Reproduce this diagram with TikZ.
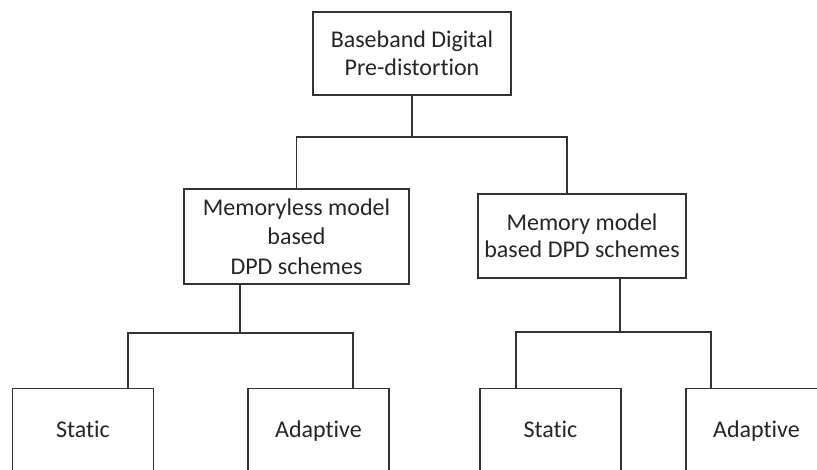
\documentclass[tikz,border=0pt]{standalone}
\usepackage{fontspec}
\setmainfont{Carlito}[Ligatures=NoCommon]
\begin{document}
\begin{tikzpicture}[x=1pt,y=-1pt,
  every node/.style={text=black!85},
  box/.style={draw=black!80, line width=1.5pt, align=center, inner sep=0pt,
    font=\fontsize{24}{28}\selectfont},
  leaf/.style={box, minimum width=141pt, text height=49pt, text depth=70pt},
  conn/.style={draw=black!80, line width=1.5pt}]
\useasboundingbox (0,0) rectangle (817,470);
\clip (0,0) rectangle (817,470);
\fill[white] (0,0) rectangle (817,470);
\node[box, minimum width=198pt, minimum height=83pt] (top) at (412,53.5) {Baseband Digital\\Pre-distortion};
\node[box, minimum width=225pt, minimum height=95pt, font=\fontsize{24}{29.5}\selectfont] (lm) at (296.5,236.5) {Memoryless model\\based\\DPD schemes};
\node[box, minimum width=208pt, minimum height=84pt, font=\fontsize{24}{26.5}\selectfont] (rm) at (582,236) {Memory model\\based DPD schemes};
\node[leaf, anchor=north] (ls) at (83,388) {Static};
\node[leaf, anchor=north] (la) at (318.5,388) {Adaptive};
\node[leaf, anchor=north] (rs) at (550.5,388) {Static};
\node[leaf, anchor=north] (ra) at (756.5,388) {Adaptive};
% junctions
\coordinate (j0) at (top.south |- 0,137);
\coordinate (rmt) at (567,194);
\coordinate (lmb) at (240,284);
\coordinate (j1) at (240,333);
\coordinate (lst) at (128,388);
\coordinate (lat) at (353,388);
\coordinate (rmb) at (620,278);
\coordinate (j2) at (620,332);
\coordinate (rst) at (516,388);
\coordinate (rat) at (711,388);
\draw[conn] (top.south) -- (j0);
\draw[conn] (j0) -| (lm.north);
\draw[conn] (j0) -| (rmt);
\draw[conn] (lmb) -- (j1);
\draw[conn] (j1) -| (lst);
\draw[conn] (j1) -| (lat);
\draw[conn] (rmb) -- (j2);
\draw[conn] (j2) -| (rst);
\draw[conn] (j2) -| (rat);
\end{tikzpicture}
\end{document}
